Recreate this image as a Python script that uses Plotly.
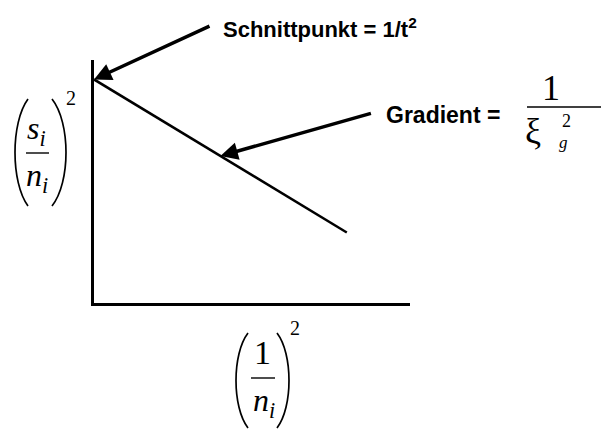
import plotly.graph_objects as go

# Schematic linear fit: (s_i/n_i)^2 against (1/n_i)^2
line_x = [0.0, 0.8]
line_y = [0.92, 0.29]
intercept_label = "<b>Schnittpunkt = 1/t<sup>2</sup></b>"
gradient_label = "<b>Gradient = </b>"
gradient_probe_x = 0.4

W, H = 604, 432
SANS = "Arial, Liberation Sans, sans-serif"
SERIF = "Times New Roman, Liberation Serif, serif"


def px(x):
    return x / W


def py(y):
    return 1 - y / H


def label(x, y, text, family, size):
    return dict(x=px(x), y=py(y), xref="paper", yref="paper", text=text,
                showarrow=False, xanchor="center", yanchor="middle",
                font=dict(family=family, size=size, color="black"))


fig = go.Figure()
fig.add_trace(go.Scatter(x=line_x, y=line_y, mode="lines",
                         line=dict(color="black", width=2.5),
                         hoverinfo="skip", showlegend=False))

slope = (line_y[1] - line_y[0]) / (line_x[1] - line_x[0])
probe_y = line_y[0] + slope * gradient_probe_x

annotations = [
    # arrow to the intercept
    dict(x=line_x[0], y=line_y[0], xref="x", yref="y", text="",
         showarrow=True, arrowhead=2, arrowsize=1, arrowwidth=3.5,
         arrowcolor="black", ax=117, ay=-54),
    # arrow to the sloped line
    dict(x=gradient_probe_x, y=probe_y, xref="x", yref="y", text="",
         showarrow=True, arrowhead=2, arrowsize=1, arrowwidth=3.5,
         arrowcolor="black", ax=152, ay=-43),
    dict(x=px(221), y=py(28), xref="paper", yref="paper", text=intercept_label,
         showarrow=False, xanchor="left", yanchor="middle",
         font=dict(family=SANS, size=22, color="black")),
    dict(x=px(384), y=py(115), xref="paper", yref="paper", text=gradient_label,
         showarrow=False, xanchor="left", yanchor="middle",
         font=dict(family=SANS, size=23, color="black")),
    # 1 / xi_g^2
    label(551, 88, "1", SERIF, 36),
    label(533, 131, "ξ", SERIF, 36),
    label(566, 121, "2", SERIF, 18),
    label(563, 142, "<i>g</i>", SERIF, 17),
    # y-axis label (s_i / n_i)^2
    label(36, 131, "<i>s<sub>i</sub></i>", SERIF, 32),
    label(37, 177, "<i>n<sub>i</sub></i>", SERIF, 32),
    label(71, 98, "2", SERIF, 20),
    # x-axis label (1 / n_i)^2
    label(262, 352, "1", SERIF, 34),
    label(264, 402, "<i>n<sub>i</sub></i>", SERIF, 32),
    label(295, 328, "2", SERIF, 20),
]


def paren(x_tip, x_bulge, y_top, y_bot):
    cx = (8 * x_bulge - 2 * x_tip) / 6
    return (f"M {px(x_tip)} {py(y_top)} "
            f"C {px(cx)} {py(y_top + (y_bot - y_top) * 0.22)} "
            f"{px(cx)} {py(y_top + (y_bot - y_top) * 0.78)} "
            f"{px(x_tip)} {py(y_bot)}")


shapes = [
    dict(type="path", xref="paper", yref="paper", path=paren(28, 15, 99, 206),
         line=dict(color="black", width=1.7)),
    dict(type="path", xref="paper", yref="paper", path=paren(52, 66, 99, 206),
         line=dict(color="black", width=1.7)),
    dict(type="line", xref="paper", yref="paper", x0=px(26), x1=px(49),
         y0=py(153), y1=py(153), line=dict(color="black", width=1.4)),
    dict(type="path", xref="paper", yref="paper", path=paren(248, 236, 333, 428),
         line=dict(color="black", width=1.7)),
    dict(type="path", xref="paper", yref="paper", path=paren(277, 289, 333, 428),
         line=dict(color="black", width=1.7)),
    dict(type="line", xref="paper", yref="paper", x0=px(251), x1=px(275),
         y0=py(378), y1=py(378), line=dict(color="black", width=1.4)),
    dict(type="line", xref="paper", yref="paper", x0=px(527), x1=px(601),
         y0=py(107), y1=py(107), line=dict(color="black", width=1.4)),
]

fig.update_layout(
    width=W, height=H,
    margin=dict(l=0, r=0, t=0, b=0),
    paper_bgcolor="white", plot_bgcolor="white",
    xaxis=dict(domain=[px(94), px(410)], range=[0, 1],
               showline=True, linecolor="black", linewidth=3,
               showgrid=False, zeroline=False, showticklabels=False, ticks=""),
    yaxis=dict(domain=[py(303), py(60)], range=[0, 1],
               showline=True, linecolor="black", linewidth=3,
               showgrid=False, zeroline=False, showticklabels=False, ticks=""),
    annotations=annotations,
    shapes=shapes,
    showlegend=False,
)

fig.write_html("out.html")
